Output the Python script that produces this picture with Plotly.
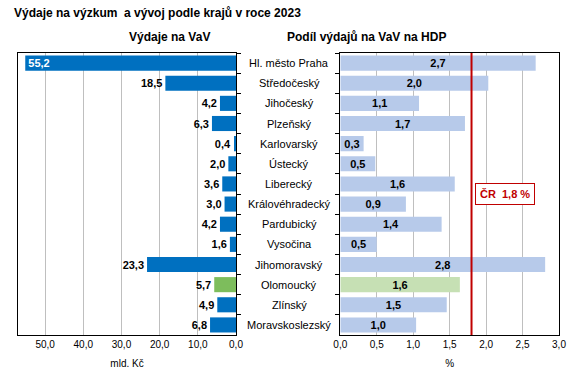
import plotly.graph_objects as go

regions = ["Hl. město Praha", "Středočeský", "Jihočeský", "Plzeňský", "Karlovarský",
           "Ústecký", "Liberecký", "Královéhradecký", "Pardubický", "Vysočina",
           "Jihomoravský", "Olomoucký", "Zlínský", "Moravskoslezský"]
spending_bn = [55.2, 18.5, 4.2, 6.3, 0.4, 2.0, 3.6, 3.0, 4.2, 1.6, 23.3, 5.7, 4.9, 6.8]
share_gdp = [2.68, 2.03, 1.08, 1.71, 0.32, 0.48, 1.57, 0.90, 1.39, 0.50, 2.81, 1.64, 1.46, 1.04]
highlight = "Olomoucký"
cz_share = 1.8

left_ticks = [50, 40, 30, 20, 10, 0]
right_ticks = [0, 0.5, 1.0, 1.5, 2.0, 2.5, 3.0]

FONT = "Arial, 'Liberation Sans', sans-serif"
BLUE = "#0070C0"
GREEN = "#7DBD5C"
LBLUE = "#B7CAEA"
LGREEN = "#C6E0B4"
GRID = "#BFBFBF"
RED = "#C00000"

left_colors = [GREEN if r == highlight else BLUE for r in regions]
right_colors = [LGREEN if r == highlight else LBLUE for r in regions]
left_pos = ["inside" if v > 40 else "outside" for v in spending_bn]
left_txtcol = ["white" if v > 40 else "black" for v in spending_bn]

fig = go.Figure()
fig.add_trace(go.Bar(
    y=regions, x=spending_bn, orientation="h", marker=dict(color=left_colors, line=dict(width=0)),
    texttemplate="%{x:.1f}", textposition=left_pos, insidetextanchor="end",
    textfont=dict(family=FONT, size=11, color=left_txtcol, weight="bold"),
    constraintext="none", cliponaxis=False, xaxis="x", yaxis="y", hoverinfo="skip",
))
fig.add_trace(go.Bar(
    y=regions, x=share_gdp, orientation="h", marker=dict(color=right_colors, line=dict(width=0)),
    texttemplate="%{x:.1f}", textposition="inside", insidetextanchor="middle",
    textfont=dict(family=FONT, size=11, color="black", weight="bold"),
    constraintext="none", xaxis="x2", yaxis="y2", hoverinfo="skip",
))

x_l = [18 / 575, 236 / 575]
x_r = [340.3 / 575, 559 / 575]

axis_common = dict(showline=True, linecolor="black", linewidth=1, mirror=True,
                   gridcolor=GRID, gridwidth=1, ticks="", zeroline=False, automargin=False,
                   tickfont=dict(family=FONT, size=10, color="black"))

fig.update_layout(
    width=575, height=376, autosize=False,
    margin=dict(l=0, r=0, t=53, b=41, pad=0, autoexpand=False),
    paper_bgcolor="white", plot_bgcolor="white",
    separators=", ",
    showlegend=False,
    bargap=0.25,
    font=dict(family=FONT, color="black"),
    title=dict(text="<b>Výdaje na výzkum  a vývoj podle krajů v roce 2023</b>",
               x=14 / 575, xanchor="left", y=1 - 13 / 376, yanchor="middle",
               yref="container", automargin=False,
               font=dict(family=FONT, size=12, color="black")),
    xaxis=dict(domain=x_l, range=[57.1, 0], tickvals=left_ticks, tickformat=".1f",
               title=dict(text="mld. Kč", font=dict(family=FONT, size=10), standoff=10),
               **axis_common),
    yaxis=dict(domain=[0, 1], type="category", categoryorder="array", categoryarray=regions,
               autorange="reversed", side="right", showticklabels=False, automargin=False,
               showline=True, linecolor="black", mirror=True, showgrid=False,
               ticks="outside", ticklen=4, tickcolor="black", tickson="boundaries"),
    xaxis2=dict(domain=x_r, range=[0, 3.0], tickvals=right_ticks, tickformat=".1f",
                title=dict(text="%", font=dict(family=FONT, size=10), standoff=10),
                anchor="y2", **axis_common),
    yaxis2=dict(domain=[0, 1], type="category", categoryorder="array", categoryarray=regions,
                autorange="reversed", anchor="x2", showticklabels=False, automargin=False,
                showline=True, linecolor="black", mirror=True, showgrid=False,
                ticks="outside", ticklen=4, tickcolor="black", tickson="boundaries"),
)

# Czech Republic average line
fig.add_shape(type="line", xref="x2", yref="y2 domain", x0=cz_share, x1=cz_share, y0=0, y1=1,
              line=dict(color=RED, width=2), layer="above")
fig.add_annotation(xref="x2", yref="y2", x=2.26, y=6.5,
                   text="<b>ČR  " + f"{cz_share:.1f}".replace(".", ",") + " %</b>",
                   showarrow=False, font=dict(family=FONT, size=11, color=RED),
                   bordercolor=RED, borderwidth=1, borderpad=4, bgcolor="white")

# Region labels centred between panels
for r in regions:
    fig.add_annotation(xref="paper", yref="y2", x=289 / 575, y=r, text=r, showarrow=False,
                       xanchor="center", font=dict(family=FONT, size=11, color="black"))

# Panel subtitles
fig.add_annotation(xref="paper", yref="paper", x=(x_l[0] + x_l[1]) / 2, y=1 + 16 / 282,
                   text="<b>Výdaje na VaV</b>", showarrow=False, yanchor="middle",
                   font=dict(family=FONT, size=12, color="black"))
fig.add_annotation(xref="paper", yref="paper", x=448 / 575, y=1 + 16 / 282,
                   text="<b>Podíl výdajů na VaV na HDP</b>", showarrow=False, yanchor="middle",
                   font=dict(family=FONT, size=12, color="black"))

fig.write_html("out.html", config={"displayModeBar": False, "responsive": False},
               post_script="document.body.style.margin='0';")
